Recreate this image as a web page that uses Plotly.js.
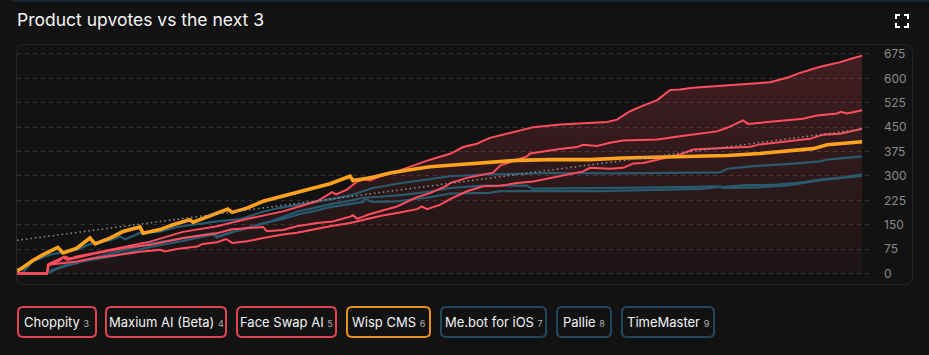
<!DOCTYPE html>
<html><head><meta charset="utf-8">
<script src="https://cdn.plot.ly/plotly-3.0.1.min.js"></script>
<style>html,body{margin:0;padding:0;background:#121212;}#chart{width:929px;height:355px;}</style>
</head><body><div id="chart"></div>
<script>
// ---- data (x = hours since launch, y = upvotes) ----
const choppityX = [0,0.85,0.91,1.22,1.36,1.51,1.70,2.16,2.64,3.12,3.78,4.71,5.68,6.62,7.55,8.52,8.95,9.06,9.37,9.66,9.88,10.03,10.31,10.79,11.36,11.73,12.30,12.67,13.06,13.43,14.00,14.66,15.42,16.08,16.76,17.04,17.41,17.78,18.18,18.55,18.83,19.20,20.17,20.90,21.39,21.87,22.24,22.81,23.38,23.74,24.00];
const choppityY = [0,0,30,45,52,46,52,62,72,84,98,128,145,170,191,222,250,243,258,283,290,286,299,314,335,350,368,389,399,417,432,450,458,463,466,473,499,516,533,564,566,571,578,584,588,602,617,636,650,662,670];

const maxiumX = [0,0.85,0.88,1.22,1.31,1.42,1.70,2.16,2.64,3.12,3.78,4.71,5.68,6.11,6.99,7.10,7.55,7.95,8.52,8.97,9.46,9.54,9.66,10.03,10.79,11.36,11.73,12.21,12.30,12.78,13.24,13.52,13.72,14.20,14.48,14.57,14.94,15.42,15.91,16.08,16.47,16.84,17.21,18.18,18.83,19.20,19.88,20.17,20.62,20.76,21.59,22.32,22.72,23.29,23.40,23.57,24.00];
const maxiumY = [0,0,25,40,50,42,48,60,70,80,88,109,124,136,143,130,134,145,155,160,175,179,168,183,206,235,247,270,278,294,304,310,332,350,360,369,376,383,389,396,392,402,409,412,422,427,437,448,471,460,468,476,486,492,497,492,502];

const faceSwapX = [0,0.85,0.88,1.22,1.70,2.16,2.64,3.12,3.58,4.06,4.20,4.54,5.11,5.28,5.68,5.94,6.11,6.53,6.99,7.55,7.95,8.52,8.89,9.46,9.83,10.31,10.79,11.36,11.50,11.64,12.01,12.30,12.78,13.24,13.72,14.20,14.66,15.14,15.62,16.08,16.27,16.84,17.21,17.50,17.78,18.18,18.55,18.83,19.20,20.17,20.82,21.10,22.04,22.52,22.89,23.38,24.00];
const faceSwapY = [0,0,27,32,37,47,55,61,68,73,68,75,83,91,96,106,94,99,109,120,125,138,145,155,165,177,186,198,206,198,211,229,253,268,270,278,283,294,304,314,325,322,325,338,340,350,360,366,381,386,390,397,407,414,427,430,445];

const wispX = [0,0.14,0.45,0.74,1.16,1.31,1.70,2.07,2.22,2.64,3.01,3.49,3.58,4.06,4.43,4.71,4.91,5.00,5.48,5.99,6.11,6.53,6.99,7.47,7.95,8.41,8.89,9.46,9.54,10.03,10.59,11.16,11.73,12.58,13.24,14.20,15.14,16.27,17.21,17.98,18.83,19.20,20.17,21.10,21.87,22.61,23.01,23.46,24.00];
const wispY = [8,16,40,58,80,63,78,109,91,109,129,143,124,135,150,160,165,158,176,198,188,201,222,235,249,263,276,299,286,294,309,319,328,335,340,348,350,350,355,357,360,362,363,369,378,384,396,399,405];

const mebotX = [0,0.14,0.45,0.94,1.70,2.16,2.64,2.93,3.07,3.49,4.06,4.54,5.00,5.68,6.33,6.99,7.47,8.04,8.89,9.46,9.83,10.11,10.79,11.73,12.30,13.24,14.20,15.14,17.04,18.83,19.97,20.17,20.90,22.04,22.81,23.01,23.57,24.00];
const mebotY = [0,0,38,58,73,94,102,114,105,124,129,143,150,160,167,190,202,212,228,240,253,263,276,289,299,304,307,309,308,309,311,322,330,338,345,350,355,360];

const pallieX = [0,0.80,0.94,1.22,1.87,2.64,3.29,3.78,4.71,5.20,5.57,5.68,6.13,6.62,7.10,7.55,8.04,8.52,8.89,9.83,9.88,10.08,10.79,11.73,12.30,13.43,13.72,16.56,17.50,18.83,19.40,19.97,20.62,21.59,22.32,22.81,23.46,24.00];
const pallieY = [0,0,5,18,37,52,68,82,100,112,120,111,128,142,157,168,183,194,204,220,230,220,222,235,246,248,253,253,256,258,260,266,271,273,280,289,296,305];

const timeMasterX = [0,0.80,0.99,1.36,2.07,2.64,3.29,3.78,4.71,5.57,5.71,6.33,7.19,7.95,8.41,8.97,9.37,9.83,10.31,10.96,11.73,12.30,13.24,14.48,14.63,16.08,17.04,18.83,19.97,20.05,21.10,21.95,22.32,22.81,23.46,24.00];
const timeMasterY = [0,0,10,25,45,60,78,92,108,124,114,135,160,190,201,215,222,233,236,242,252,263,270,270,261,261,263,266,268,263,265,272,278,287,294,301];

const trendX = [0,24];
const trendY = [102,444];

const names = ["Choppity","Maxium AI (Beta)","Face Swap AI","Wisp CMS","Me.bot for iOS","Pallie","TimeMaster"];
const ranks = [3,4,5,6,7,8,9];
const yTicks = [0,75,150,225,300,375,450,525,600,675];

// ---- styles ----
const RED = "#ff4d5e", ORANGE = "#ffa31f", TEAL = "#2a5a70";
const legendBorder = ["#e0454f","#e0454f","#e0454f","#e8901f","#22485c","#22485c","#22485c"];
const legendBoxes = [[17,97],[105,227],[236,337],[346,431],[440,547],[556,612],[621,715]];

const W=929,H=355,L=17,R=56,T=44,B=71,PW=W-L-R,PH=H-T-B;
const fx = p => (p-L)/PW;
const fy = p => (H-B-p)/PH;
function rr(x0,y0,x1,y1,r){
  const P=(x,y)=>fx(x).toFixed(5)+","+fy(y).toFixed(5);
  return "M"+P(x0+r,y0)+" L"+P(x1-r,y0)+" Q"+P(x1,y0)+" "+P(x1,y0+r)+
    " L"+P(x1,y1-r)+" Q"+P(x1,y1)+" "+P(x1-r,y1)+" L"+P(x0+r,y1)+
    " Q"+P(x0,y1)+" "+P(x0,y1-r)+" L"+P(x0,y0+r)+" Q"+P(x0,y0)+" "+P(x0+r,y0)+" Z";
}
function pl(pts){ return pts.map((p,i)=>(i?"L":"M")+fx(p[0]).toFixed(5)+","+fy(p[1]).toFixed(5)).join(" "); }

const FONT = "Inter, 'Noto Sans', sans-serif";
const line = (x,y,c,w,n) => ({x,y,type:"scatter",mode:"lines",name:n,line:{color:c,width:w},hoverinfo:"skip"});

const traces = [
  {x:choppityX,y:choppityY,type:"scatter",mode:"none",fill:"tozeroy",hoverinfo:"skip",
   fillgradient:{type:"vertical",colorscale:[[0,"rgba(255,77,94,0.045)"],[1,"rgba(255,77,94,0.2)"]]}},
  line(timeMasterX,timeMasterY,TEAL,2.2,names[6]),
  line(pallieX,pallieY,TEAL,2.2,names[5]),
  line(mebotX,mebotY,TEAL,2.2,names[4]),
  line(faceSwapX,faceSwapY,RED,2,names[2]),
  line(maxiumX,maxiumY,RED,2,names[1]),
  line(choppityX,choppityY,RED,2,names[0]),
  line(wispX,wispY,ORANGE,3.6,names[3]),
  {x:trendX,y:trendY,type:"scatter",mode:"lines",line:{color:"#8f8f8f",width:1.5,dash:"1.5px,3px"},hoverinfo:"skip"}
];

const shapes = [
  {type:"path",xref:"paper",yref:"paper",path:rr(16.5,44.5,912.5,284.5,8),line:{color:"#1c2834",width:1}},
  {type:"line",xref:"paper",yref:"paper",x0:fx(12),x1:fx(929),y0:fy(0.8),y1:fy(0.8),line:{color:"#1b2837",width:1.6}},
  // expand icon
  {type:"path",xref:"paper",yref:"paper",path:pl([[896,19],[896,15],[900,15]]),line:{color:"#ffffff",width:2}},
  {type:"path",xref:"paper",yref:"paper",path:pl([[904,15],[908,15],[908,19]]),line:{color:"#ffffff",width:2}},
  {type:"path",xref:"paper",yref:"paper",path:pl([[896,23],[896,27],[900,27]]),line:{color:"#ffffff",width:2}},
  {type:"path",xref:"paper",yref:"paper",path:pl([[904,27],[908,27],[908,23]]),line:{color:"#ffffff",width:2}}
];
const annotations = [
  {xref:"paper",yref:"paper",x:fx(14.5),y:fy(20),xanchor:"left",yanchor:"middle",showarrow:false,
   text:"Product upvotes vs the next 3",font:{family:FONT,size:17.5,color:"#f4f4f4"}}
];
names.forEach((n,i)=>{
  const [a,b]=legendBoxes[i];
  shapes.push({type:"path",xref:"paper",yref:"paper",path:rr(a+1,307,b-1,337,5),line:{color:legendBorder[i],width:2}});
  annotations.push({xref:"paper",yref:"paper",x:fx((a+b)/2),y:fy(322),xanchor:"center",yanchor:"middle",showarrow:false,
    text:n+" <span style=\"font-size:9px;color:#b0b0b0\">"+ranks[i]+"</span>",font:{family:FONT,size:13,color:"#f2f2f2"}});
});

const layout = {
  width:W,height:H,margin:{l:L,r:R,t:T,b:B},
  paper_bgcolor:"#121212",plot_bgcolor:"#121212",showlegend:false,
  xaxis:{range:[0,24.31],showgrid:false,zeroline:false,showticklabels:false,showline:false,fixedrange:true},
  yaxis:{range:[-32.3,705.7],side:"right",tickvals:yTicks,ticktext:yTicks.map(String),showgrid:true,
    gridcolor:"#333333",griddash:"4px,4px",gridwidth:1,zeroline:false,showline:false,ticks:"",
    ticklabelstandoff:10,tickfont:{family:FONT,size:12,color:"#8a8a8a"},fixedrange:true},
  shapes,annotations,font:{family:FONT}
};
Plotly.newPlot("chart",traces,layout,{displayModeBar:false,staticPlot:true});
</script></body></html>
